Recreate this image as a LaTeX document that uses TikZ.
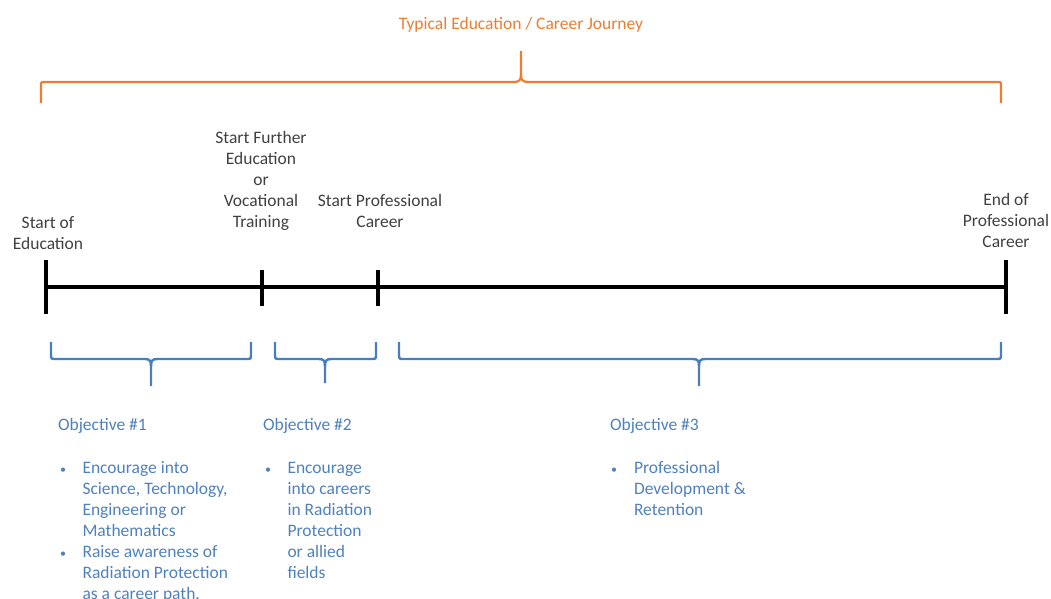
\documentclass[tikz,border=0pt]{standalone}
\usepackage{fontspec}
\setmainfont{Carlito}
\definecolor{orng}{RGB}{237,125,49}
\definecolor{blu}{RGB}{74,126,187}
\definecolor{blutxt}{RGB}{79,129,189}
\definecolor{txtgray}{RGB}{64,64,64}
\begin{document}
\begin{tikzpicture}[x=1pt,y=-1pt,
  every node/.style={inner sep=0pt, outer sep=0pt, font=\fontsize{17.5}{21}\selectfont},
  lbl/.style={anchor=north, align=center, text=txtgray},
  objtitle/.style={anchor=base west, text=blutxt},
  bul/.style={anchor=base west, text=blutxt, font=\fontsize{12}{21}\selectfont},
  item/.style={anchor=north west, align=left, text=blutxt},
  axis/.style={line width=4pt, black},
  tickline/.style={line width=4pt, black},
  obrace/.style={draw=orng, line width=2.2pt, line join=round},
  bbrace/.style={draw=blu, line width=2.4pt, line join=round}]
\useasboundingbox (0,0) rectangle (1051,598);

% title and orange brace
\node[anchor=base, text=orng] (title) at (521,29) {Typical Education / Career Journey};
\coordinate (otip) at (521,51);
\draw[obrace] (41,103) -- (41,86) .. controls (41,82) .. (45,82) -- (514,82)
  .. controls (519,82) and (521,80) .. (521,75) -- (otip);
\draw[obrace] (1001,103) -- (1001,86) .. controls (1001,82) .. (997,82) -- (528,82)
  .. controls (523,82) and (521,80) .. (521,75);

% timeline
\coordinate (t0) at (46,287);
\coordinate (t1) at (262,287);
\coordinate (t2) at (378,287);
\coordinate (t3) at (1006,287);
\draw[axis] (t0) -- (t3);
\draw[tickline] ([yshift=-27pt]t0) -- ([yshift=27pt]t0);
\draw[tickline] ([yshift=-19pt]t1) -- ([yshift=17pt]t1);
\draw[tickline] ([yshift=-19pt]t2) -- ([yshift=17pt]t2);
\draw[tickline] ([yshift=-27pt]t3) -- ([yshift=27pt]t3);

% milestone labels
\node[lbl] (soe) at (48,213.3) {\strut Start of\\Education};
\node[lbl] (sfe) at (261,128.3) {\strut Start Further\\Education\\or\\Vocational\\Training};
\node[lbl] (spc) at (380,191.3) {\strut Start Professional\\Career};
\node[lbl] (epc) at (1006,190.3) {\strut End of\\Professional\\Career};

% blue braces
\draw[bbrace] (51,342) -- (51,354) .. controls (51,359) .. (56,359) -- (145,359)
  .. controls (150,359) and (151,361) .. (151,366) -- (151,386);
\draw[bbrace] (251,342) -- (251,354) .. controls (251,359) .. (246,359) -- (157,359)
  .. controls (152,359) and (151,361) .. (151,366);
\draw[bbrace] (275,342) -- (275,354) .. controls (275,359) .. (280,359) -- (319,359)
  .. controls (324,359) and (325,361) .. (325,366) -- (325,383);
\draw[bbrace] (376,342) -- (376,354) .. controls (376,359) .. (371,359) -- (331,359)
  .. controls (326,359) and (325,361) .. (325,366);
\draw[bbrace] (399,342) -- (399,354) .. controls (399,359) .. (404,359) -- (693,359)
  .. controls (698,359) and (699,361) .. (699,366) -- (699,386);
\draw[bbrace] (1001,342) -- (1001,354) .. controls (1001,359) .. (996,359) -- (705,359)
  .. controls (700,359) and (699,361) .. (699,366);

% objectives
\node[objtitle] (o1) at (58,430) {Objective \#1};
\node[objtitle] (o2) at (263,430) {Objective \#2};
\node[objtitle] (o3) at (610,430) {Objective \#3};

\node[bul] (b11) at (60,473) {\textbullet};
\node[item] (i11) at (82.5,458.3) {\strut Encourage into\\Science, Technology,\\Engineering or\\Mathematics};
\node[bul] (b12) at (60,557) {\textbullet};
\node[item] (i12) at (82.5,542.3) {\strut Raise awareness of\\Radiation Protection\\as a career path.};

\node[bul] (b21) at (265,473) {\textbullet};
\node[item] (i21) at (287.5,458.3) {\strut Encourage\\into careers\\in Radiation\\Protection\\or allied\\fields};

\node[bul] (b31) at (611,473) {\textbullet};
\node[item] (i31) at (634,458.3) {\strut Professional\\Development \&\\Retention};
\end{tikzpicture}
\end{document}
